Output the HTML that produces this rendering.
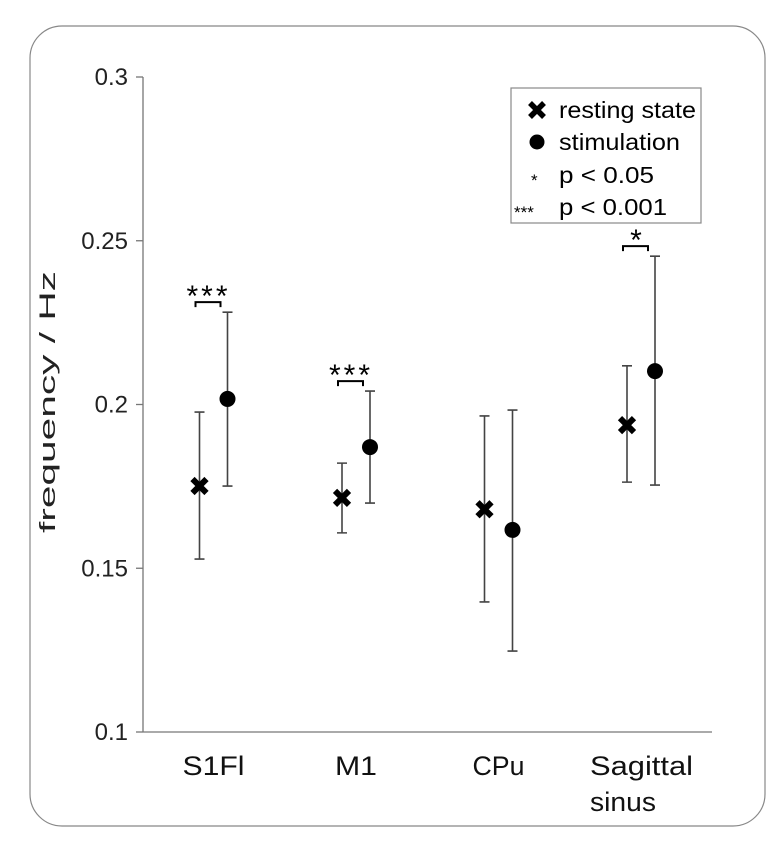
<!DOCTYPE html>
<html><head><meta charset="utf-8"><style>
html,body{margin:0;padding:0;background:#fff;}
svg{display:block;font-family:"Liberation Sans",sans-serif;}
</style></head><body>
<svg width="784" height="843" viewBox="0 0 784 843" id="chart">
<rect x="30" y="26" width="735" height="800" rx="32" fill="#fff" stroke="#888" stroke-width="1.2"/>
<g id="axes"></g><g id="marks"></g>
<text transform="translate(55,402) rotate(-90)" text-anchor="middle" font-size="22" fill="#222" textLength="262" lengthAdjust="spacingAndGlyphs">frequency / Hz</text>
<g>
<rect x="511" y="88" width="190" height="135" fill="#fff" stroke="#888" stroke-width="1.2"/>
<path d="M530,103 L544,117 M544,103 L530,117" stroke="#000" stroke-width="5.5"/>
<text x="559" y="118" font-size="23" textLength="137" lengthAdjust="spacingAndGlyphs">resting state</text>
<circle cx="537" cy="142" r="7.5" fill="#000"/>
<text x="559" y="150" font-size="23" textLength="121" lengthAdjust="spacingAndGlyphs">stimulation</text>
<text x="531" y="186" font-size="17">*</text>
<text x="559" y="183" font-size="23" textLength="95" lengthAdjust="spacingAndGlyphs">p &lt; 0.05</text>
<text x="514" y="218" font-size="17">***</text>
<text x="559" y="215" font-size="23" textLength="108" lengthAdjust="spacingAndGlyphs">p &lt; 0.001</text>
</g>
</svg>
<script>
const categories=["S1Fl","M1","CPu","Sagittal sinus"];
const restMean=[0.1751,0.1715,0.1680,0.1937];
const restLow=[0.1528,0.1608,0.1397,0.1763];
const restHigh=[0.1977,0.1821,0.1965,0.2118];
const stimMean=[0.2017,0.1870,0.1617,0.2102];
const stimLow=[0.1751,0.1699,0.1247,0.1754];
const stimHigh=[0.2282,0.2041,0.1983,0.2453];
const sigLabels=["***","***","","*"];
const yTicks=[0.1,0.15,0.2,0.25,0.3];
const yTickLabels=["0.1","0.15","0.2","0.25","0.3"];
const NS="http://www.w3.org/2000/svg";
const y=v=>732-(v-0.1)/0.2*655;
const xCenter=i=>213.5+i*142.5;
const xr=i=>xCenter(i)-14, xs=i=>xCenter(i)+14;
const labelWidths={"S1Fl":62,"M1":42,"CPu":52,"Sagittal":103,"sinus":66};
function mk(tag,attrs,parent,txt){const e=document.createElementNS(NS,tag);for(const k in attrs)e.setAttribute(k,attrs[k]);if(txt!==undefined)e.textContent=txt;parent.appendChild(e);return e;}
const axes=document.getElementById('axes'),marks=document.getElementById('marks');
let e=mk('line',{x1:143,y1:y(0.3),x2:143,y2:y(0.1),stroke:'#777','stroke-width':1.3},axes);


e=mk('line',{x1:143,y1:y(0.1),x2:712,y2:y(0.1),stroke:'#777','stroke-width':1.3},axes);


yTicks.forEach((t,i)=>{
 e=mk('line',{x1:136,y1:y(t),x2:143,y2:y(t),stroke:'#777','stroke-width':1.3},axes);
 
 
 e=mk('text',{x:128,y:y(t)+8,'text-anchor':'end','font-size':24,fill:'#222'},axes,yTickLabels[i]);
 
 
});
categories.forEach((c,i)=>{
 const parts=c.split(' ');
 parts.forEach((p,j)=>{
  const w=labelWidths[p]||60;
  const x0=i==3?590:xCenter(i)-w/2;
  e=mk('text',{x:x0,y:775+j*36,'font-size':27,fill:'#111',textLength:w,lengthAdjust:'spacingAndGlyphs'},axes,p);
  
  
 });
 [[xr(i),restLow[i],restHigh[i]],[xs(i),stimLow[i],stimHigh[i]]].forEach(([x,lo,hi])=>{
  e=mk('path',{d:`M${x},${y(lo)}V${y(hi)}M${x-5},${y(lo)}H${x+5}M${x-5},${y(hi)}H${x+5}`,stroke:'#444','stroke-width':1.6,fill:'none'},marks);
  
  
 });
 const cx=xr(i),cy=y(restMean[i]);
 e=mk('path',{d:`M${cx-7},${cy-7}L${cx+7},${cy+7}M${cx+7},${cy-7}L${cx-7},${cy+7}`,stroke:'#000','stroke-width':6},marks);
 
 
 e=mk('circle',{cx:xs(i),cy:y(stimMean[i]),r:8,fill:'#000'},marks);
 
 
 if(sigLabels[i]){
  const by=Math.min(y(restHigh[i]),y(stimHigh[i]))-10;
  e=mk('path',{d:`M${xr(i)-4},${by+5}V${by}H${xs(i)-7}V${by+5}`,stroke:'#000','stroke-width':2,fill:'none'},marks);
  
  
  e=mk('text',{x:(xr(i)+xs(i))/2-5,y:by+4,'text-anchor':'middle','font-size':30,fill:'#000','letter-spacing':sigLabels[i].length>1?3:0},marks,sigLabels[i]);
  
  
 }
});
</script>
</body></html>
